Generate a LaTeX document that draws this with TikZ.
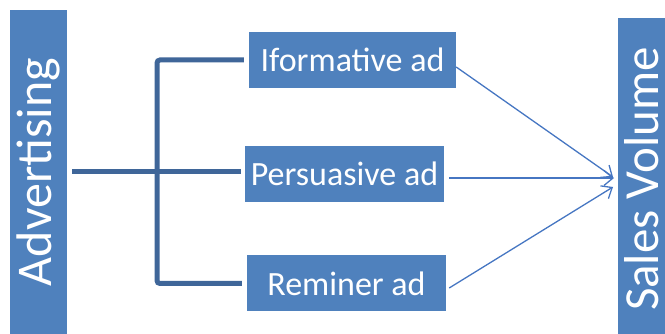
\documentclass[tikz,border=0pt]{standalone}
\usepackage{fontspec}
\setmainfont{Carlito}
\usetikzlibrary{arrows.meta}
\definecolor{boxblue}{HTML}{4F81BD}
\definecolor{treeblue}{HTML}{3F6699}
\definecolor{arrowblue}{HTML}{4676C2}
\tikzset{
  bar/.style={fill=boxblue, text=white, rotate=90, inner sep=0pt, font=\fontsize{50}{50}\selectfont},
  adbox/.style={fill=boxblue, text=white, minimum height=56pt, inner sep=0pt, font=\fontsize{34}{34}\selectfont},
  tree/.style={treeblue, line width=5pt},
  link/.style={arrowblue, line width=1.3pt, -{Straight Barb[length=9pt, width=15pt, line width=1.3pt]}}
}
\begin{document}
\begin{tikzpicture}[x=1pt, y=-1pt]
\useasboundingbox (0,0) rectangle (665,334);
\node[bar, minimum width=324pt, minimum height=57pt] (adv) at (38.5,172) {Advertising};
\node[bar, minimum width=316pt, minimum height=47pt] (sales) at (641.5,176) {};
\node[text=white, rotate=90, inner sep=0pt, font=\fontsize{49}{49}\selectfont] (salestext) at (642,179) {Sales Volume};
\node[adbox, minimum width=207pt] (info) at (352.5,60) {Iformative ad};
\node[adbox, minimum width=199pt] (pers) at (344.5,174) {Persuasive ad};
\node[adbox, minimum width=199pt] (remind) at (346.5,283.5) {Reminer ad};
\coordinate (fork) at (157,172);
% tree from advertising
\draw[tree] ([xshift=5pt]adv.south |- fork) -- (fork);
\draw[tree, rounded corners=3pt] ([xshift=-5pt]info.west) -- (info.west -| fork) -- (remind.west -| fork) -- ([xshift=-5pt]remind.west);
\draw[tree] (fork) -- ([xshift=-4pt]pers.west |- fork);
% arrows to sales
\coordinate (hitA) at (613,177);
\coordinate (hitB) at (614,178);
\coordinate (hitC) at (613,187);
\draw[link] ([yshift=-7pt]info.east) -- (hitA);
\draw[link] ([xshift=5pt, yshift=-4pt]pers.east) -- (hitB);
\draw[link] ([xshift=3pt, yshift=-4.5pt]remind.east) -- (hitC);
\end{tikzpicture}
\end{document}
